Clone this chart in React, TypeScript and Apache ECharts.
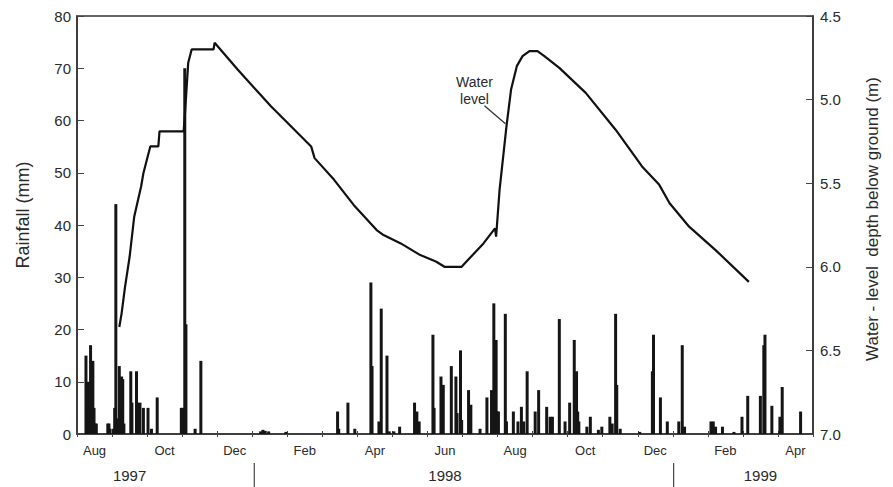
import React, { useEffect, useRef } from "react";
import * as echarts from "echarts";

// Month bands of the x axis (Aug 1997 .. Apr 1999)
const monthKeys = [
  "1997-08", "1997-09", "1997-10", "1997-11", "1997-12",
  "1998-01", "1998-02", "1998-03", "1998-04", "1998-05", "1998-06",
  "1998-07", "1998-08", "1998-09", "1998-10", "1998-11", "1998-12",
  "1999-01", "1999-02", "1999-03", "1999-04",
];
const monthNames = ["Jan", "Feb", "Mar", "Apr", "May", "Jun", "Jul", "Aug", "Sep", "Oct", "Nov", "Dec"];
const yearLabelMonths = ["1997-09", "1998-06", "1999-03"];
const yearStarts = ["1998-01-01", "1999-01-01"];

const rainTicks = [0, 10, 20, 30, 40, 50, 60, 70, 80];
const depthTicks = [4.5, 5.0, 5.5, 6.0, 6.5, 7.0];

// Daily rainfall (mm)
const rainDates = [
  "1997-08-07", "1997-08-09", "1997-08-10", "1997-08-11", "1997-08-13", "1997-08-14", "1997-08-15", "1997-08-16", "1997-08-26", "1997-08-27", "1997-08-28", "1997-08-31",
  "1997-09-01", "1997-09-02", "1997-09-03", "1997-09-04", "1997-09-05", "1997-09-06", "1997-09-07", "1997-09-08", "1997-09-09", "1997-09-15", "1997-09-16", "1997-09-20", "1997-09-21", "1997-09-23", "1997-09-26", "1997-09-30",
  "1997-10-03", "1997-10-08", "1997-10-29", "1997-10-30", "1997-11-01", "1997-11-02", "1997-11-10", "1997-11-15",
  "1998-01-06", "1998-01-08", "1998-01-10", "1998-01-13", "1998-01-28",
  "1998-03-14", "1998-03-15", "1998-03-23", "1998-03-29",
  "1998-04-12", "1998-04-13", "1998-04-19", "1998-04-21", "1998-04-26", "1998-04-28",
  "1998-05-02", "1998-05-07", "1998-05-20", "1998-05-22", "1998-05-24",
  "1998-06-05", "1998-06-06", "1998-06-12", "1998-06-14", "1998-06-21", "1998-06-25", "1998-06-26", "1998-06-29", "1998-06-30",
  "1998-07-06", "1998-07-08", "1998-07-16", "1998-07-22", "1998-07-26", "1998-07-28", "1998-07-30", "1998-07-31",
  "1998-08-01", "1998-08-07", "1998-08-08", "1998-08-14", "1998-08-18", "1998-08-21", "1998-08-23", "1998-08-26",
  "1998-09-02", "1998-09-05", "1998-09-12", "1998-09-15", "1998-09-17", "1998-09-23", "1998-09-28",
  "1998-10-02", "1998-10-06", "1998-10-08", "1998-10-09", "1998-10-10", "1998-10-17", "1998-10-20", "1998-10-27", "1998-10-30",
  "1998-11-06", "1998-11-08", "1998-11-11", "1998-11-12", "1998-11-15",
  "1998-12-02", "1998-12-13", "1998-12-14", "1998-12-20", "1998-12-26",
  "1999-01-05", "1999-01-08", "1999-01-10",
  "1999-02-02", "1999-02-04", "1999-02-06", "1999-02-12", "1999-02-22",
  "1999-03-01", "1999-03-06", "1999-03-17", "1999-03-20", "1999-03-21", "1999-03-27",
  "1999-04-03", "1999-04-05", "1999-04-21",
];
const rainMm = [
  15, 10, 5, 17, 14, 5, 2, 2, 2, 2, 1, 1,
  5, 44, 2, 3, 13, 5, 11, 10.5, 2, 12, 6, 12, 6, 6, 5, 5,
  1, 7, 5, 5, 70, 21, 1, 14,
  0.5, 0.8, 0.6, 0.5, 0.4,
  4.3, 1, 6, 1,
  29, 13, 2.4, 24, 15, 0.5,
  0.5, 1.4, 6, 4.3, 2.4,
  19, 5, 11, 9.4, 13, 11, 4, 16, 2.7,
  8.4, 5.6, 1, 7, 8.4, 25, 18, 4.3,
  4.3, 23, 2.4, 4.3, 2.4, 5.2, 2.4, 12,
  4.3, 8.4, 5.2, 3.3, 3.3, 22, 2.4,
  6, 18, 12, 4.3, 2.4, 1.4, 3.3, 0.8, 1.4,
  3.3, 2, 23, 9.4, 1,
  0.4, 12, 19, 7, 2.4,
  2.4, 17, 1.4,
  2.4, 2.4, 1.4, 1.4, 0.4,
  3.3, 7.3, 7.3, 17, 19, 5.4,
  3.3, 9, 4.3,
];

// Water-level depth below ground (m)
const levelDates = [
  "1997-09-05", "1997-09-07", "1997-09-10", "1997-09-14", "1997-09-18", "1997-09-21", "1997-09-24", "1997-09-26", "1997-09-29", "1997-10-02",
  "1997-10-09", "1997-10-10", "1997-10-31", "1997-11-01", "1997-11-04", "1997-11-07", "1997-11-26", "1997-11-27", "1997-12-17", "1998-01-15",
  "1998-02-19", "1998-02-22", "1998-03-11", "1998-03-28", "1998-04-17", "1998-04-23", "1998-05-08", "1998-05-25", "1998-06-08", "1998-06-15",
  "1998-06-30", "1998-07-04", "1998-07-19", "1998-07-29", "1998-07-30", "1998-08-02", "1998-08-08", "1998-08-12", "1998-08-17", "1998-08-22",
  "1998-08-28", "1998-09-04", "1998-09-10", "1998-09-23", "1998-10-16", "1998-11-11", "1998-12-04", "1998-12-19", "1998-12-28", "1999-01-14",
  "1999-02-06", "1999-03-07",
];
const levelDepths = [
  6.36, 6.28, 6.12, 5.94, 5.70, 5.61, 5.52, 5.44, 5.36, 5.28,
  5.28, 5.19, 5.19, 5.10, 4.78, 4.70, 4.70, 4.66, 4.82, 5.04,
  5.28, 5.35, 5.48, 5.63, 5.78, 5.81, 5.86, 5.93, 5.97, 6.00,
  6.00, 5.97, 5.86, 5.77, 5.82, 5.54, 5.16, 4.94, 4.80, 4.74,
  4.71, 4.71, 4.74, 4.81, 4.96, 5.18, 5.40, 5.51, 5.62, 5.76,
  5.90, 6.09,
];

const annotationDate = "1998-08-08";
const annotationDepth = 5.15;
const annotationText = "Water\nlevel";

const FONT = "'Liberation Sans', Arial, sans-serif";
const INK = "#2a2a2a";

const ts = (s: string, hour = 12) => {
  const [y, m, d] = s.split("-").map(Number);
  return new Date(y, m - 1, d, hour).getTime();
};

export default function App() {
  const ref = useRef<HTMLDivElement>(null);

  useEffect(() => {
    if (!ref.current) return;
    const chart = echarts.init(ref.current, undefined, { renderer: "svg" });

    const monthLabel = (v: string) => monthNames[Number(v.split("-")[1]) - 1];

    const baseCat = {
      type: "category" as const,
      data: monthKeys,
      position: "bottom" as const,
      gridIndex: 0,
      boundaryGap: true,
      axisPointer: { show: false },
      splitLine: { show: false },
    };
    const xMin = ts("1997-08-01", 0);
    const xMax = ts("1999-05-01", 0);

    chart.setOption({
      animation: false,
      textStyle: { fontFamily: FONT, color: INK },
      grid: {
        left: 77, right: 80, top: 16, bottom: 53,
        show: true, borderColor: "#333", borderWidth: 1.5, backgroundColor: "transparent",
      },
      xAxis: [
        {
          type: "time",
          position: "bottom",
          min: xMin,
          max: xMax,
          axisLine: { show: false },
          axisTick: { show: false },
          axisLabel: { show: false },
          splitLine: { show: false },
        },
        {
          ...baseCat,
          axisLine: { show: true, lineStyle: { color: "#333", width: 1.5 } },
          axisTick: { show: true, inside: true, length: 3, interval: 0, lineStyle: { color: "#444", width: 1 } },
          axisLabel: {
            show: true, interval: 1, margin: 10, fontSize: 13, color: INK, fontFamily: FONT,
            formatter: (v: string) => monthLabel(v),
          },
        },
        {
          ...baseCat,
          axisLine: { show: false },
          axisTick: { show: true, inside: false, length: 3, interval: 0, lineStyle: { color: "#444", width: 1 } },
          axisLabel: { show: false },
        },
        {
          ...baseCat,
          offset: 29,
          axisLine: { show: false },
          axisTick: { show: false },
          axisLabel: {
            show: true, interval: 0, margin: 5, fontSize: 15, color: INK, fontFamily: FONT,
            formatter: (v: string) => (yearLabelMonths.includes(v) ? v.split("-")[0] : ""),
          },
        },
      ],
      yAxis: [
        {
          type: "value",
          position: "left",
          min: rainTicks[0],
          max: rainTicks[rainTicks.length - 1],
          interval: rainTicks[1] - rainTicks[0],
          axisLine: { show: true, lineStyle: { color: "#333", width: 1.5 } },
          axisTick: { show: true, inside: true, length: 7, lineStyle: { color: "#444" } },
          axisLabel: { fontSize: 15, margin: 6, color: INK, fontFamily: FONT },
          splitLine: { show: false },
          name: "Rainfall (mm)",
          nameLocation: "middle",
          nameRotate: 90,
          nameGap: 45,
          nameTextStyle: { fontSize: 18, color: INK, fontFamily: FONT, padding: [0, 0, 0, 20] },
        },
        {
          type: "value",
          position: "right",
          inverse: true,
          min: depthTicks[0],
          max: depthTicks[depthTicks.length - 1],
          interval: depthTicks[1] - depthTicks[0],
          axisLine: { show: true, lineStyle: { color: "#333", width: 1.5 } },
          axisTick: { show: true, inside: true, length: 7, lineStyle: { color: "#444" } },
          axisLabel: {
            fontSize: 15, margin: 7, color: INK, fontFamily: FONT,
            formatter: (v: number) => v.toFixed(1),
          },
          splitLine: { show: false },
          name: "Water - level  depth below ground (m)",
          nameLocation: "middle",
          nameRotate: 90,
          nameGap: 51,
          nameTextStyle: { fontSize: 17, color: INK, fontFamily: FONT, padding: [0, 0, 0, 12] },
        },
      ],
      series: [
        {
          type: "bar",
          name: "Rainfall",
          xAxisIndex: 0,
          yAxisIndex: 0,
          barWidth: 3,
          itemStyle: { color: "#151515", borderColor: "#151515", borderWidth: 0 },
          data: rainDates.map((d, i) => [ts(d), rainMm[i]]),
          z: 2,
        },
        {
          type: "line",
          name: "Water level",
          xAxisIndex: 0,
          yAxisIndex: 1,
          showSymbol: false,
          symbol: "none",
          lineStyle: { color: "#111", width: 2.2 },
          data: levelDates.map((d, i) => [ts(d), levelDepths[i]]),
          z: 3,
        },
      ],
    });

    const graphics: any[] = [];
    const p = chart.convertToPixel({ seriesIndex: 1 }, [ts(annotationDate), annotationDepth]) as number[];
    if (p && isFinite(p[0])) {
      graphics.push(
        {
          type: "line",
          shape: { x1: p[0] - 22, y1: p[1] - 19, x2: p[0] - 1, y2: p[1] - 1 },
          style: { stroke: "#333", lineWidth: 1.3 },
          z: 10,
        },
        {
          type: "text",
          x: p[0] - 32,
          y: p[1] - 34,
          style: {
            text: annotationText,
            fontSize: 14,
            lineHeight: 17,
            fontFamily: FONT,
            fill: INK,
            align: "center",
            verticalAlign: "middle",
          },
          z: 10,
        }
      );
    }
    // Year separators at 1 January, positioned through the time axis scale
    yearStarts.forEach((d) => {
      const q = chart.convertToPixel({ seriesIndex: 0 }, [ts(d, 0), 0]) as number[];
      if (q && isFinite(q[0])) {
        graphics.push({
          type: "line",
          shape: { x1: q[0], y1: q[1] + 29, x2: q[0], y2: q[1] + 53 },
          style: { stroke: "#444", lineWidth: 1.2 },
          z: 10,
        });
      }
    });
    chart.setOption({ graphic: graphics });

    return () => chart.dispose();
  }, []);

  return (
    <div
      ref={ref}
      style={{ position: "fixed", left: 0, top: 0, width: 893, height: 487, background: "#fff" }}
    />
  );
}
